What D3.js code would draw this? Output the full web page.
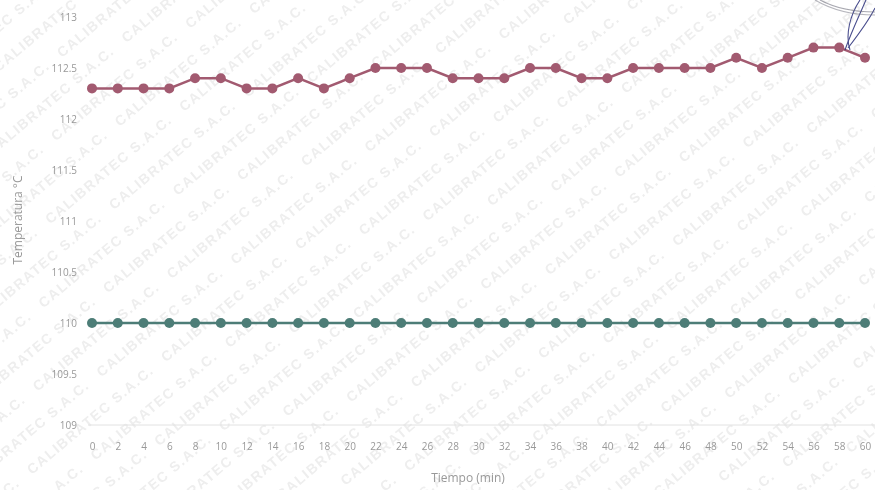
<!DOCTYPE html>
<html>
<head>
<meta charset="utf-8">
<script src="https://cdn.jsdelivr.net/npm/d3@7"></script>
<style>
  html, body { margin: 0; padding: 0; background: #ffffff; }
  svg { display: block; }
</style>
</head>
<body>
<svg id="chart" width="875" height="490"></svg>
<script>
// Time in minutes
const tiempo = [0,2,4,6,8,10,12,14,16,18,20,22,24,26,28,30,32,34,36,38,40,42,44,46,48,50,52,54,56,58,60];
// Measured temperature (°C)
const medida = [112.3,112.3,112.3,112.3,112.4,112.4,112.3,112.3,112.4,112.3,112.4,112.5,112.5,112.5,112.4,112.4,112.4,112.5,112.5,112.4,112.4,112.5,112.5,112.5,112.5,112.6,112.5,112.6,112.7,112.7,112.6];
// Set point (°C)
const consigna = [110,110,110,110,110,110,110,110,110,110,110,110,110,110,110,110,110,110,110,110,110,110,110,110,110,110,110,110,110,110,110];
// Y tick labels
const yTicks = [109, 109.5, 110, 110.5, 111, 111.5, 112, 112.5, 113];

const svg = d3.select("#chart");
const W = 875, H = 490;

// faint diagonal watermark tiled over the whole page
const wm = svg.append("g").attr("opacity", 0.11).attr("fill", "#666")
  .style("font-family", "'Liberation Sans', Arial, sans-serif")
  .style("font-size", "14px").style("font-weight", "bold");
const a = 40 * Math.PI / 180;
const dir = [Math.cos(a), -Math.sin(a)];   // along the text
const nor = [Math.sin(a), Math.cos(a)];    // across the text
for (let k = -40; k <= 40; k++) {
  for (let j = -20; j <= 20; j++) {
    const u = j * 175 + ((k % 3 + 3) % 3) * 58;
    const v = k * 30;
    const x0 = 300 + u * dir[0] + v * nor[0];
    const y0 = 250 + u * dir[1] + v * nor[1];
    if (x0 < -150 || x0 > W + 10 || y0 < -10 || y0 > H + 120) continue;
    wm.append("text").attr("transform", `translate(${x0.toFixed(1)},${y0.toFixed(1)}) rotate(-40)`)
      .attr("letter-spacing", "1.5px").text("CALIBRATEC S.A.C.");
  }
}

const x = d3.scaleLinear().domain([0, 60]).range([92, 865]);
const y = d3.scaleLinear().domain([109, 113]).range([425, 17]);

const font = "'Open Sans', 'Noto Sans', sans-serif";

// baseline
svg.append("line").attr("x1", 88).attr("x2", W).attr("y1", y(109)).attr("y2", y(109))
  .attr("stroke", "#e2e2e2").attr("stroke-width", 1);

// y axis labels
const yAxis = d3.axisLeft(y).tickValues(yTicks).tickSize(0).tickPadding(0)
  .tickFormat(d => String(d));
svg.append("g").attr("transform", "translate(77,0)").call(yAxis)
  .call(g => g.select(".domain").remove())
  .call(g => g.selectAll("text").attr("fill", "#999").style("font-family", font)
    .style("font-size", "10px"));

// x axis labels
const xAxis = d3.axisBottom(x).tickValues(tiempo).tickSize(0).tickPadding(0)
  .tickFormat(d => String(d));
svg.append("g").attr("transform", "translate(0,443)").call(xAxis)
  .call(g => g.select(".domain").remove())
  .call(g => g.selectAll("text").attr("fill", "#999").style("font-family", font)
    .style("font-size", "10px"));

// axis titles
svg.append("text").attr("x", 468).attr("y", 482).attr("text-anchor", "middle")
  .attr("fill", "#999").style("font-family", font).style("font-size", "12px")
  .text("Tiempo (min)");
svg.append("text").attr("transform", "translate(22,220) rotate(-90)").attr("text-anchor", "middle")
  .attr("fill", "#999").style("font-family", font).style("font-size", "12px")
  .text("Temperatura °C");

const line = d3.line().x((d, i) => x(tiempo[i])).y(d => y(d));

function series(vals, color) {
  const g = svg.append("g");
  g.append("path").datum(vals).attr("d", line).attr("fill", "none")
    .attr("stroke", color).attr("stroke-width", 2.5);
  g.selectAll("circle").data(vals).join("circle")
    .attr("cx", (d, i) => x(tiempo[i])).attr("cy", d => y(d)).attr("r", 5)
    .attr("fill", color);
}
series(consigna, "#4d7d77");
series(medida, "#a25a70");

// ink signature strokes in the top-right corner
const ink = svg.append("g").attr("fill", "none").attr("stroke", "#2a2f7a").attr("stroke-width", 1.1).attr("opacity", 0.85);
ink.append("path").attr("d", "M845,50 C852,30 862,10 868,-5");
ink.append("path").attr("d", "M848,48 C858,35 870,18 875,8");
ink.append("path").attr("d", "M850,50 C845,35 850,15 860,0");
ink.append("path").attr("d", "M820,0 C835,8 855,12 875,12").attr("stroke", "#556").attr("opacity", 0.6);
ink.append("path").attr("d", "M815,0 C832,10 852,15 875,15").attr("stroke", "#556").attr("opacity", 0.5);
</script>
</body>
</html>
